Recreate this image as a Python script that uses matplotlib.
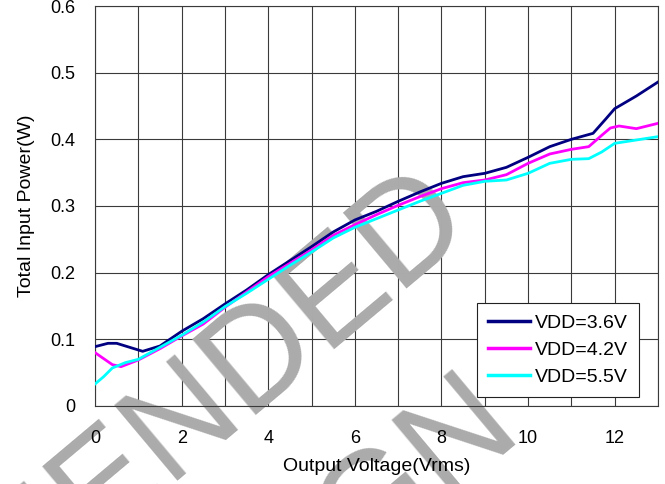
import numpy as np
import matplotlib
matplotlib.use("Agg")
import matplotlib.pyplot as plt

plt.rcParams['font.family'] = ['Liberation Sans', 'DejaVu Sans']

# Output voltage (Vrms) vs total input power (W)
x_36 = [0, 0.3, 0.5, 1.1, 1.5, 2, 2.5, 3, 3.5, 4, 4.5, 5, 5.5, 6, 6.5, 7, 7.5, 8,
        8.5, 9, 9.5, 10, 10.5, 11, 11.5, 11.8, 12, 12.5, 13]
p_36 = [0.089, 0.094, 0.094, 0.082, 0.090, 0.112, 0.131, 0.153, 0.174, 0.197, 0.218,
        0.239, 0.261, 0.279, 0.292, 0.307, 0.321, 0.334, 0.344, 0.349, 0.358, 0.373,
        0.389, 0.400, 0.409, 0.431, 0.446, 0.465, 0.486]

x_42 = [0, 0.4, 0.6, 1, 1.5, 2, 2.5, 3, 3.5, 4, 4.5, 5, 5.5, 6, 6.5, 7, 7.5, 8,
        8.5, 9, 9.5, 10, 10.5, 11, 11.4, 11.7, 11.9, 12.1, 12.5, 13]
p_42 = [0.080, 0.062, 0.059, 0.069, 0.086, 0.105, 0.123, 0.148, 0.171, 0.194, 0.214,
        0.234, 0.256, 0.272, 0.287, 0.301, 0.314, 0.326, 0.335, 0.339, 0.347, 0.364,
        0.378, 0.385, 0.389, 0.406, 0.417, 0.420, 0.416, 0.424]

x_55 = [0, 0.2, 0.4, 0.7, 1, 1.5, 2, 2.5, 3, 3.5, 4, 4.5, 5, 5.5, 6, 6.5, 7, 7.5, 8,
        8.5, 9, 9.5, 10, 10.5, 11, 11.4, 11.7, 12, 12.5, 13]
p_55 = [0.033, 0.044, 0.057, 0.065, 0.070, 0.088, 0.106, 0.126, 0.149, 0.169, 0.190,
        0.211, 0.231, 0.252, 0.268, 0.281, 0.294, 0.307, 0.319, 0.331, 0.337, 0.339,
        0.349, 0.364, 0.370, 0.371, 0.381, 0.394, 0.399, 0.404]

labels = ["VDD=3.6V", "VDD=4.2V", "VDD=5.5V"]
colors = ["#000080", "#ff00ff", "#00ffff"]

x_ticks = [0, 2, 4, 6, 8, 10, 12]
x_grid = list(range(0, 14))
y_ticks = [0, 0.1, 0.2, 0.3, 0.4, 0.5, 0.6]
y_ticklabels = ["0", "0.1", "0.2", "0.3", "0.4", "0.5", "0.6"]

fig = plt.figure(figsize=(6.65, 4.84), dpi=100)
ax = fig.add_axes([0.1429, 0.1612, 0.8466, 0.8264])

# grid drawn by hand so the watermark can sit between grid and curves
for v in x_grid:
    ax.axvline(v, color="#3a3a3a", linewidth=0.8, zorder=0.5)
for v in y_ticks:
    ax.axhline(v, color="#3a3a3a", linewidth=0.8, zorder=0.5)

# watermark
wm = dict(color="#ababab", fontsize=102, rotation=40, rotation_mode="anchor",
          ha="right", va="baseline", clip_on=False, zorder=1)
ax.text(8.82, 0.264, "NOT RECOMMENDED", **wm)
ax.text(9.93, -0.0465, "FOR NEW DESIGN", **wm)

series = [(x_36, p_36), (x_42, p_42), (x_55, p_55)]
for (xs, ys), lab, col in zip(series, labels, colors):
    ax.plot(xs, ys, color=col, linewidth=2.0, label=lab, zorder=3)

ax.set_xlim(0, 13)
ax.set_ylim(0, 0.6)
ax.set_xticks(x_ticks)
ax.set_yticks(y_ticks)
ax.set_yticklabels(y_ticklabels)
ax.tick_params(axis="x", length=0, pad=17, labelsize=13)
ax.tick_params(axis="y", length=0, pad=14, labelsize=13)
for s in ax.spines.values():
    s.set_color("#3a3a3a")
    s.set_linewidth(0.8)

ax.set_xlabel("Output Voltage(Vrms)", fontsize=14, labelpad=8)
ax.set_ylabel("Total Input Power(W)", fontsize=14, labelpad=11)

leg = ax.legend(loc="lower right", bbox_to_anchor=(0.966, 0.0225), borderaxespad=0,
                fontsize=14, handlelength=2.2, handletextpad=0.25, labelspacing=0.5,
                borderpad=0.55, fancybox=False, framealpha=1, edgecolor="#222222")
leg.get_frame().set_linewidth(0.8)
for h in leg.get_lines():
    h.set_linewidth(2.5)

fig.savefig("out.png", dpi=100)
